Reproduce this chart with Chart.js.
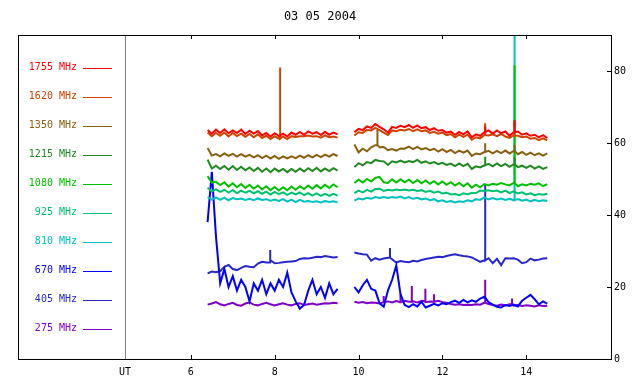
<!DOCTYPE html>
<html>
<head>
<meta charset="utf-8">
<script src="https://cdn.jsdelivr.net/npm/chart.js@4/dist/chart.umd.min.js"></script>
<style>
  body { margin: 0; background: #fff; }
</style>
</head>
<body>
<canvas id="canvas" width="640" height="384"></canvas>
<script>
const title = '03 05 2004'
const freqs = ['1755 MHz', '1620 MHz', '1350 MHz', '1215 MHz', '1080 MHz', '925 MHz', '810 MHz', '670 MHz', '405 MHz', '275 MHz']
const xTicks = [6, 8, 10, 12, 14]
const yTicks = [0, 20, 40, 60, 80]

// UT hours, morning block and afternoon block
const times1 = [6.4, 6.5, 6.6, 6.7, 6.8, 6.9, 7.0, 7.1, 7.2, 7.3, 7.4, 7.5, 7.6, 7.7, 7.8, 7.9, 8.0, 8.1, 8.2, 8.3, 8.4, 8.5, 8.6, 8.7, 8.8, 8.9, 9.0, 9.1, 9.2, 9.3, 9.4, 9.5]
const times2 = [9.9, 10.0, 10.1, 10.2, 10.3, 10.4, 10.5, 10.6, 10.7, 10.8, 10.9, 11.0, 11.1, 11.2, 11.3, 11.4, 11.5, 11.6, 11.7, 11.8, 11.9, 12.0, 12.1, 12.2, 12.3, 12.4, 12.5, 12.6, 12.7, 12.8, 12.9, 13.0, 13.1, 13.2, 13.3, 13.4, 13.5, 13.6, 13.7, 13.8, 13.9, 14.0, 14.1, 14.2, 14.3, 14.4, 14.5]

const f1755a = [63.6, 62.6, 63.7, 62.8, 63.8, 62.7, 63.5, 62.8, 63.7, 62.5, 63.4, 62.6, 63.3, 62.1, 62.8, 61.8, 62.7, 61.9, 62.6, 61.8, 62.9, 62.3, 63.1, 62.3, 63.2, 62.6, 63.0, 62.2, 63.1, 62.3, 62.9, 62.4]
const f1755b = [63.0, 63.9, 63.6, 64.6, 64.2, 65.3, 64.5, 63.8, 62.9, 64.5, 64.2, 64.8, 64.4, 65.0, 64.2, 64.9, 64.1, 64.4, 63.6, 64.1, 63.4, 63.6, 62.9, 63.2, 62.3, 63.1, 62.4, 63.2, 61.6, 62.4, 62.0, 63.0, 63.5, 62.6, 63.5, 62.7, 63.2, 62.0, 63.0, 63.2, 62.3, 62.7, 62.0, 62.3, 61.6, 62.2, 61.4]
const f1620a = [62.9, 61.9, 62.8, 62.0, 62.9, 61.8, 62.8, 61.9, 62.6, 61.7, 62.5, 61.6, 62.4, 61.4, 62.0, 61.1, 61.9, 61.2, 61.8, 61.1, 61.9, 61.7, 61.9, 61.9, 62.1, 61.8, 61.9, 61.5, 62.1, 61.6, 61.8, 61.5]
const f1620b = [62.1, 63.0, 62.8, 63.6, 63.5, 64.2, 63.6, 62.9, 62.2, 63.5, 63.3, 63.7, 63.5, 63.9, 63.3, 63.8, 63.3, 63.5, 62.8, 63.1, 62.6, 62.9, 62.2, 62.5, 61.6, 62.3, 61.7, 62.3, 60.9, 61.6, 61.3, 62.2, 62.1, 62.4, 61.9, 62.5, 61.8, 61.4, 62.1, 62.0, 61.6, 61.8, 61.2, 61.4, 60.8, 61.3, 60.7]
const f1350a = [58.6, 56.5, 56.9, 56.3, 57.1, 56.4, 57.0, 56.2, 56.9, 56.2, 56.7, 56.0, 56.6, 55.8, 56.5, 55.7, 56.4, 55.6, 56.3, 55.7, 56.3, 55.8, 56.5, 55.9, 56.6, 56.0, 56.7, 56.1, 56.8, 56.2, 56.9, 56.4]
const f1350b = [59.6, 57.4, 58.4, 57.7, 58.8, 59.4, 58.8, 58.9, 58.0, 58.3, 57.9, 58.5, 58.4, 59.0, 58.3, 58.9, 58.2, 58.6, 58.0, 58.4, 57.6, 58.3, 57.5, 58.1, 57.2, 57.9, 57.3, 57.9, 56.4, 57.1, 56.9, 57.5, 57.8, 57.1, 57.8, 57.2, 57.9, 57.1, 57.8, 56.9, 57.5, 56.7, 57.3, 56.6, 57.1, 56.5, 57.1]
const f1215a = [55.4, 52.9, 53.7, 52.8, 53.6, 52.6, 53.6, 52.5, 53.4, 52.4, 53.2, 52.2, 53.1, 52.0, 52.9, 51.9, 52.9, 52.1, 52.8, 51.9, 52.8, 52.0, 52.9, 52.1, 53.0, 52.2, 53.1, 52.1, 52.9, 52.2, 53.0, 52.3]
const f1215b = [53.3, 54.4, 53.8, 54.7, 54.4, 55.3, 55.0, 54.9, 53.9, 54.9, 54.6, 55.1, 54.6, 55.0, 54.7, 55.3, 54.5, 54.9, 54.3, 54.7, 54.1, 54.5, 53.9, 54.3, 53.6, 54.3, 53.6, 54.2, 52.8, 53.5, 53.2, 53.8, 54.2, 53.5, 54.3, 53.6, 54.2, 53.4, 54.1, 53.3, 53.7, 53.1, 53.7, 52.9, 53.5, 52.8, 53.3]
const f1080a = [50.8, 49.0, 49.2, 48.3, 49.1, 47.9, 48.8, 47.7, 48.6, 47.5, 48.4, 47.3, 48.2, 47.1, 48.0, 46.9, 47.8, 46.8, 47.7, 46.9, 47.9, 47.0, 48.0, 47.2, 48.2, 47.3, 48.3, 47.4, 48.4, 47.5, 48.5, 47.7]
const f1080b = [48.9, 49.8, 49.0, 50.0, 49.3, 50.3, 50.6, 49.1, 48.9, 49.9, 49.0, 49.9, 49.1, 49.8, 48.9, 49.7, 48.8, 49.6, 48.7, 49.4, 48.5, 49.3, 48.4, 49.1, 48.2, 48.9, 48.0, 48.8, 47.6, 48.4, 47.7, 48.6, 48.2, 48.7, 48.4, 48.9, 48.5, 48.2, 48.9, 48.0, 48.5, 48.2, 48.7, 48.4, 48.8, 48.0, 48.6]
const f925a = [47.6, 46.6, 47.1, 46.4, 47.0, 46.2, 46.9, 46.1, 46.8, 46.2, 46.7, 46.0, 46.6, 45.9, 46.5, 45.7, 46.4, 45.8, 46.3, 45.6, 46.2, 45.7, 46.3, 45.5, 46.1, 45.4, 46.0, 45.3, 45.9, 45.3, 45.9, 45.4]
const f925b = [46.1, 46.8, 46.3, 47.0, 46.5, 47.2, 47.3, 46.7, 47.0, 46.8, 47.1, 46.9, 47.1, 46.8, 47.0, 46.7, 46.9, 46.4, 46.7, 46.2, 46.5, 46.0, 46.2, 45.7, 45.8, 45.5, 46.0, 45.8, 46.1, 46.1, 46.8, 46.7, 46.9, 46.6, 46.8, 46.3, 46.8, 46.1, 46.6, 46.0, 46.3, 45.7, 46.0, 45.5, 45.8, 45.6, 45.9]
const f810a = [45.0, 44.3, 44.9, 44.2, 44.8, 44.1, 44.7, 44.4, 44.6, 44.2, 44.5, 44.1, 44.6, 44.2, 44.4, 44.0, 44.3, 43.9, 44.4, 43.7, 44.3, 43.6, 44.2, 43.7, 43.9, 43.6, 43.8, 43.5, 43.9, 43.6, 43.8, 43.5]
const f810b = [44.0, 44.6, 44.3, 44.8, 44.5, 45.0, 44.7, 45.0, 44.7, 45.0, 44.8, 45.1, 44.6, 45.0, 44.5, 44.8, 44.3, 44.6, 44.1, 44.4, 43.8, 44.1, 43.6, 43.9, 43.5, 43.8, 43.6, 44.1, 43.8, 44.4, 44.2, 44.9, 44.3, 44.7, 44.3, 44.6, 44.2, 44.5, 44.1, 44.4, 44.0, 44.3, 43.8, 44.2, 43.8, 44.1, 43.9]
const f670a = [38, 52, 34, 21, 25, 20, 23, 19, 22, 20, 16, 21, 19, 22, 18, 21, 19, 22, 20, 24, 18.5, 16, 14, 15, 19, 22, 18, 20, 17, 21, 18, 19.5]
const f670b = [20, 18.5, 20.5, 22, 19.5, 19, 15.5, 14.5, 19, 22, 26, 18, 15, 14.4, 15.2, 14.6, 15.9, 14.3, 14.8, 15.3, 14.9, 15.5, 15.2, 15.8, 16.2, 15.6, 16.4, 15.7, 16.3, 15.9, 16.8, 17.3, 15.8, 15.1, 14.5, 14.3, 15.0, 14.7, 15.1, 14.6, 16.2, 17.0, 17.8, 16.6, 15.2, 16.0, 15.4]
const f405a = [23.8, 24.3, 24.1, 24.4, 25.6, 26.1, 25.0, 24.7, 25.3, 25.8, 25.6, 25.5, 26.5, 27.0, 26.8, 27.5, 26.6, 26.7, 26.9, 27.0, 27.1, 27.2, 27.8, 28.0, 27.9, 28.1, 28.4, 28.3, 28.6, 28.4, 28.2, 28.3]
const f405b = [29.6, 29.3, 29.1, 29.0, 27.3, 28.0, 27.6, 27.9, 28.1, 27.7, 26.8, 27.2, 27.0, 26.9, 27.3, 27.1, 27.5, 27.8, 28.0, 28.2, 28.4, 28.3, 28.6, 28.9, 29.1, 28.8, 28.6, 28.5, 28.2, 27.6, 27.0, 27.4, 28.0, 26.6, 27.8, 26.1, 28.0, 27.9, 28.0, 27.6, 26.6, 26.9, 27.9, 27.4, 27.6, 27.9, 28.0]
const f275a = [15.1, 15.4, 15.8, 15.2, 14.9, 15.3, 15.6, 15.0, 14.8, 15.4, 15.7, 15.1, 14.9, 15.3, 15.6, 15.2, 14.9, 15.2, 15.5, 15.1, 14.9, 15.3, 15.5, 15.0, 15.2, 15.4, 15.1, 15.3, 15.5, 15.4, 15.6, 15.5]
const f275b = [15.9, 15.6, 15.8, 15.5, 15.7, 15.6, 15.4, 15.8, 16.0, 15.7, 16.1, 15.8, 16.2, 15.9, 16.0, 15.7, 16.1, 15.8, 16.0, 15.9, 16.2, 15.8, 15.6, 15.3, 15.1, 15.2, 15.0, 15.1, 15.0, 15.2, 15.1, 15.6, 15.3, 15.0, 14.8, 15.1, 14.9, 15.2, 14.8, 15.0, 14.7, 14.9, 14.8, 14.6, 14.9, 14.7, 14.8]

// short bursts: [series index, UT hour, peak]
const spikes = [
    [1, 8.13, 81], [8, 7.89, 30.3],
    [2, 10.45, 63.6], [8, 10.75, 30.8], [9, 10.6, 17.5], [9, 11.0, 18.0], [9, 11.27, 20.3], [9, 11.59, 19.5], [9, 11.8, 18.0],
    [0, 13.02, 64.6], [1, 13.02, 65.5], [2, 13.02, 59.9], [3, 13.02, 56.2], [8, 13.02, 48.3], [9, 13.02, 22],
    [0, 13.72, 66.4], [1, 13.72, 66], [2, 13.72, 59.5], [3, 13.72, 56], [4, 13.72, 81.6], [6, 13.72, 95], [9, 13.66, 16.8],
]

const morning = [f1755a, f1620a, f1350a, f1215a, f1080a, f925a, f810a, f670a, f405a, f275a]
const afternoon = [f1755b, f1620b, f1350b, f1215b, f1080b, f925b, f810b, f670b, f405b, f275b]
const colors = ['#ff0000', '#cc4400', '#886010', '#228822', '#00c000', '#00c070', '#00c0c0', '#0000ff', '#2828c8', '#8000c8']

const xMin = 4.43
const xMax = 16.02
const font = 'DejaVu Sans Mono'

const datasets = freqs.map((label, i) => {
    const pts = times1.map((t, k) => ({x: t, y: morning[i][k]}))
    pts.push({x: 9.7, y: null})
    times2.forEach((t, k) => pts.push({x: t, y: afternoon[i][k]}))
    spikes.filter(s => s[0] === i).forEach(([, t, peak]) => {
        const idx = pts.findIndex(p => p.x > t)
        const prev = pts[idx - 1]
        pts.splice(idx, 0, {x: t, y: prev.y}, {x: t, y: peak}, {x: t, y: prev.y})
    })
    return {
        label: label,
        data: pts,
        borderColor: colors[i],
        backgroundColor: colors[i],
        borderWidth: 2,
        pointRadius: 0,
        tension: 0,
    }
})

const frame = {
    id: 'frame',
    afterDraw(chart) {
        const ctx = chart.ctx
        const a = chart.chartArea
        const x = chart.scales.x
        const y = chart.scales.y
        ctx.save()
        ctx.lineWidth = 1
        ctx.strokeStyle = '#808080'
        ctx.beginPath()
        ctx.moveTo(Math.round(a.left) + 0.5, a.top)
        ctx.lineTo(Math.round(a.left) + 0.5, a.bottom)
        ctx.stroke()

        ctx.strokeStyle = '#000'
        ctx.strokeRect(18.5, Math.round(a.top) + 0.5, Math.round(a.right) - 18, Math.round(a.bottom - a.top))
        ctx.beginPath()
        xTicks.forEach(v => {
            const px = Math.round(x.getPixelForValue(v)) + 0.5
            ctx.moveTo(px, a.bottom)
            ctx.lineTo(px, a.bottom - 4)
            ctx.moveTo(px, a.top)
            ctx.lineTo(px, a.top + 4)
        })
        yTicks.forEach(v => {
            const py = Math.round(y.getPixelForValue(v)) + 0.5
            ctx.moveTo(a.right - 4, py)
            ctx.lineTo(a.right, py)
        })
        ctx.stroke()

        ctx.fillStyle = '#000'
        ctx.font = '12px "' + font + '"'
        ctx.textAlign = 'center'
        ctx.textBaseline = 'middle'
        ctx.fillText(title, 320, 17)

        ctx.font = '10px "' + font + '"'
        ctx.textAlign = 'right'
        chart.data.datasets.forEach((ds, i) => {
            const ly = 67.5 + 29 * i
            ctx.fillStyle = ds.borderColor
            ctx.strokeStyle = ds.borderColor
            ctx.fillText(ds.label, 77, ly)
            ctx.beginPath()
            ctx.moveTo(83, Math.round(ly) + 0.5)
            ctx.lineTo(112, Math.round(ly) + 0.5)
            ctx.stroke()
        })
        ctx.restore()
    }
}

const config = {
    type: 'line',
    data: {datasets: datasets},
    options: {
        responsive: false,
        animation: false,
        layout: {padding: {left: 125, top: 35, right: 0, bottom: 0}},
        plugins: {
            legend: {display: false},
            title: {display: false},
            tooltip: {enabled: false},
        },
        scales: {
            x: {
                type: 'linear',
                min: xMin,
                max: xMax,
                afterBuildTicks: s => { s.ticks = [xMin].concat(xTicks).map(v => ({value: v})) },
                afterFit: s => { s.height = 25 },
                grid: {display: false, drawTicks: false},
                border: {display: false},
                ticks: {
                    autoSkip: false,
                    maxRotation: 0,
                    padding: 7,
                    color: '#000',
                    font: {family: font, size: 10},
                    callback: v => Math.abs(v - xMin) < 1e-6 ? 'UT' : v,
                },
            },
            y: {
                position: 'right',
                min: 0,
                max: 90,
                afterBuildTicks: s => { s.ticks = yTicks.map(v => ({value: v})) },
                afterFit: s => { s.width = 29 },
                grid: {display: false, drawTicks: false},
                border: {display: true, color: '#000'},
                ticks: {
                    padding: 3,
                    color: '#000',
                    font: {family: font, size: 10},
                },
            },
        },
    },
    plugins: [frame],
}
const canvas = document.getElementById('canvas')
const chart = new Chart(canvas, config)
</script>
</body>
</html>
